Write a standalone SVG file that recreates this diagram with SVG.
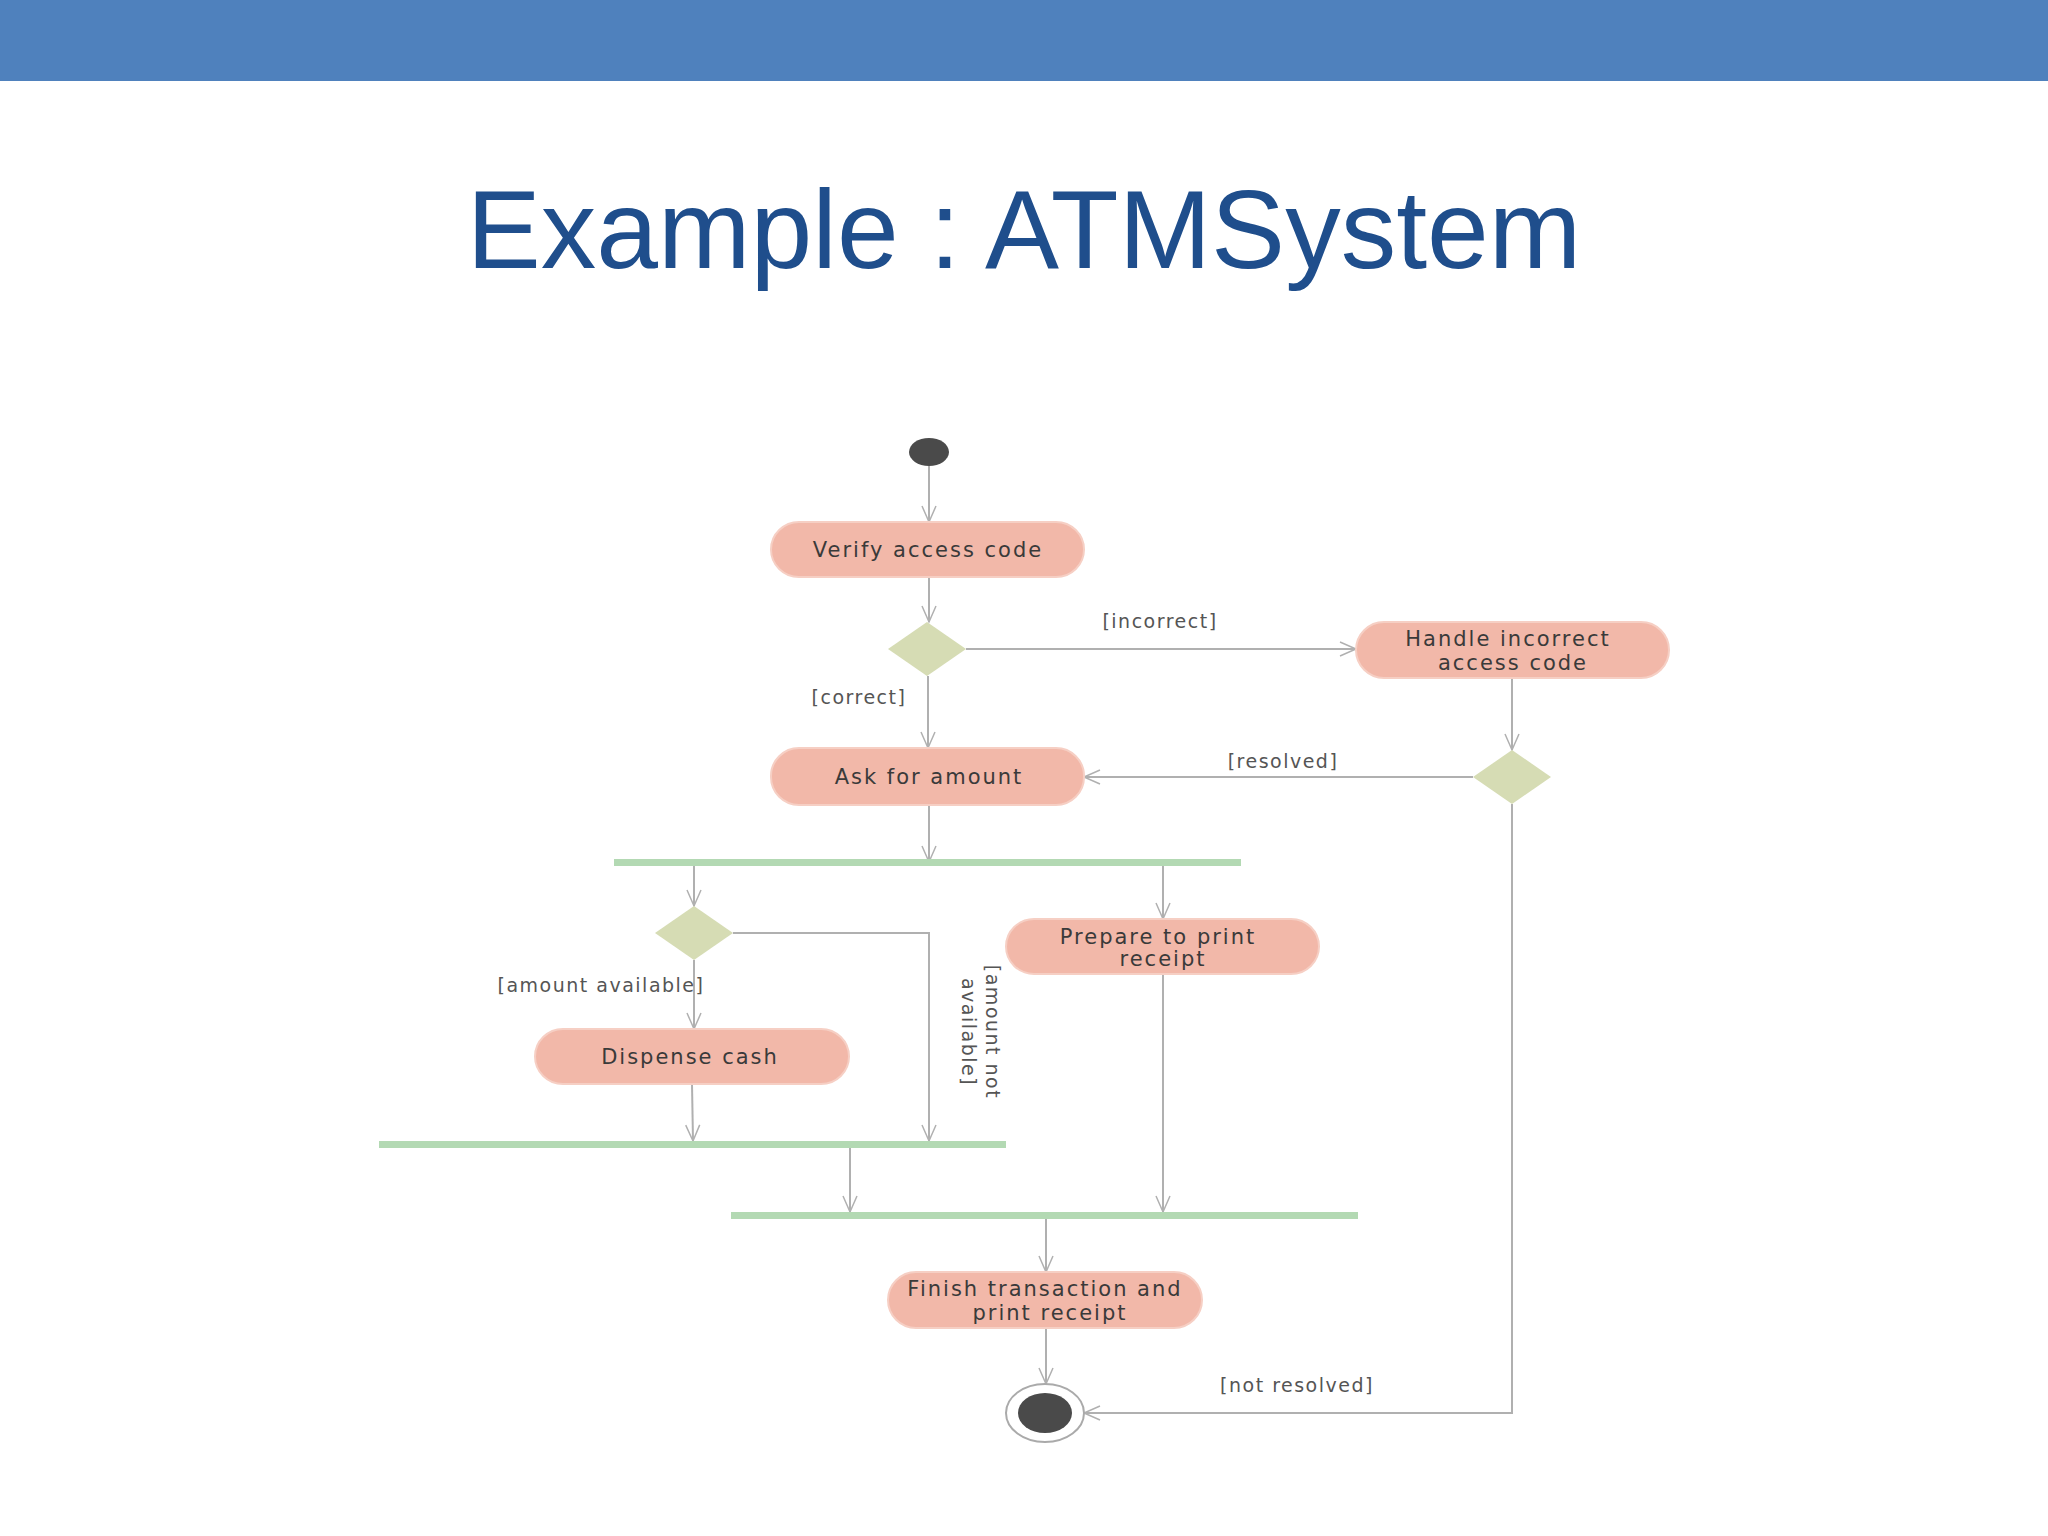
<svg xmlns="http://www.w3.org/2000/svg" width="2048" height="1536" viewBox="0 0 2048 1536">
<defs>
<style>
.n{fill:#f2b8a9;stroke:#f6cfc4;stroke-width:2}
.d{fill:#d6dcb4}
.b{fill:#b3d9b3}
.t{font-family:"DejaVu Sans",sans-serif;font-size:21px;fill:#3a3a3a;text-anchor:middle;letter-spacing:2px}
.l{font-family:"DejaVu Sans",sans-serif;font-size:19px;fill:#555;text-anchor:middle;letter-spacing:1.5px}
.c{fill:none;stroke:#b0b0b0;stroke-width:2;marker-end:url(#a)}
</style>
<marker id="a" viewBox="0 0 20 20" refX="18" refY="10" markerWidth="20" markerHeight="20" markerUnits="userSpaceOnUse" orient="auto">
<path d="M2,3 L18,10 L2,17" fill="none" stroke="#b0b0b0" stroke-width="1.5"/>
</marker>
</defs>
<rect width="2048" height="1536" fill="#fff"/>
<rect width="2048" height="81" fill="#4f81bd"/>
<text x="1024" y="268" font-family="Liberation Sans,Arial,sans-serif" font-size="111" fill="#1f4e8c" text-anchor="middle">Example : ATMSystem</text>
<g id="connectors">
<path class="c" d="M929,466 V522"/>
<path class="c" d="M929,577 V622"/>
<path class="c" d="M966,649 H1356"/>
<path class="c" d="M928,676 V748"/>
<path class="c" d="M1512,678 V750"/>
<path class="c" d="M1473,777 H1084"/>
<path class="c" d="M929,805 V862"/>
<path class="c" d="M694,862 V906"/>
<path class="c" d="M1163,862 V919"/>
<path class="c" d="M694,960 V1029"/>
<path class="c" d="M733,933 H929 V1141"/>
<path class="c" d="M692,1084 L693,1141"/>
<path class="c" d="M850,1147 V1212"/>
<path class="c" d="M1163,974 V1212"/>
<path class="c" d="M1046,1218 V1272"/>
<path class="c" d="M1046,1328 V1384"/>
<path class="c" d="M1512,804 V1413 H1084"/>
<text class="l" x="1160" y="628">[incorrect]</text>
<text class="l" x="859" y="704">[correct]</text>
<text class="l" x="1283" y="768">[resolved]</text>
<text class="l" x="601" y="992">[amount available]</text>
<text class="l" transform="translate(978,1032) rotate(90)" y="-8">[amount not</text>
<text class="l" transform="translate(978,1032) rotate(90)" y="16">available]</text>
<text class="l" x="1297" y="1392">[not resolved]</text>
</g>
<g id="start"><ellipse cx="929" cy="452" rx="20" ry="14" fill="#4a4a4a"/></g>
<g id="verify"><rect class="n" x="771" y="522" width="313" height="55" rx="28"/><text class="t" x="928" y="557">Verify access code</text></g>
<g id="d1"><polygon class="d" points="927,622 966,649 927,676 888,649"/></g>
<g id="handle"><rect class="n" x="1356" y="622" width="313" height="56" rx="28"/><text class="t" x="1508" y="646">Handle incorrect</text><text class="t" x="1513" y="670">access code</text></g>
<g id="ask"><rect class="n" x="771" y="748" width="313" height="57" rx="28"/><text class="t" x="929" y="784">Ask for amount</text></g>
<g id="d2"><polygon class="d" points="1512,750 1551,777 1512,804 1473,777"/></g>
<g id="bar1"><rect class="b" x="614" y="859" width="627" height="7"/></g>
<g id="d3"><polygon class="d" points="694,906 733,933 694,960 655,933"/></g>
<g id="prepare"><rect class="n" x="1006" y="919" width="313" height="55" rx="28"/><text class="t" x="1158" y="944">Prepare to print</text><text class="t" x="1163" y="966">receipt</text></g>
<g id="dispense"><rect class="n" x="535" y="1029" width="314" height="55" rx="28"/><text class="t" x="690" y="1064">Dispense cash</text></g>
<g id="bar2"><rect class="b" x="379" y="1141" width="627" height="7"/></g>
<g id="bar3"><rect class="b" x="731" y="1212" width="627" height="7"/></g>
<g id="finish"><rect class="n" x="888" y="1272" width="314" height="56" rx="28"/><text class="t" x="1045" y="1296">Finish transaction and</text><text class="t" x="1050" y="1320">print receipt</text></g>
<g id="end"><ellipse cx="1045" cy="1413" rx="39" ry="29" fill="#fff" stroke="#aaa" stroke-width="2"/><ellipse cx="1045" cy="1413" rx="27" ry="20" fill="#4a4a4a"/></g>
</svg>
